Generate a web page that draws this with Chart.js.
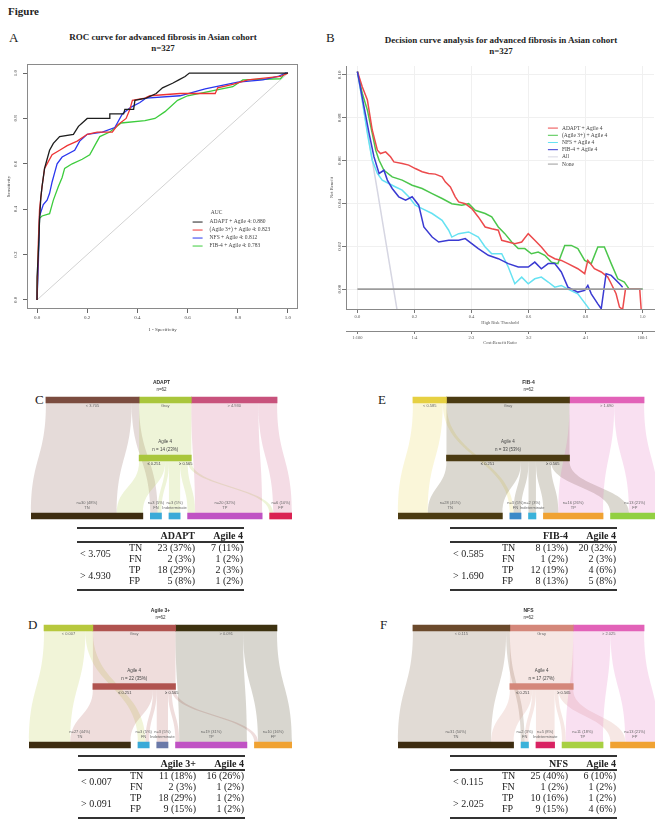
<!DOCTYPE html>
<html>
<head>
<meta charset="utf-8">
<title>Figure</title>
<script src="https://cdn.jsdelivr.net/npm/chart.js@4.4.1/dist/chart.umd.min.js"></script>
<style>
  html, body { margin: 0; padding: 0; background: #fff; }
  body { position: relative; width: 655px; height: 820px; overflow: hidden; font-family: "Liberation Serif", serif; color: #222; }
  canvas { position: absolute; }
  .t { position: absolute; white-space: nowrap; line-height: 1; }
  .letter { font-size: 13px; }
  .head { font-size: 9px; font-weight: bold; text-align: center; line-height: 1.25; }
  .rule { position: absolute; height: 2px; background: #333; }
  .cell { position: absolute; white-space: nowrap; font-size: 10px; line-height: 10px; }
</style>
</head>
<body>
<div class="t" style="left:8px;top:6px;font-size:11px;font-weight:bold">Figure</div>
<div class="t letter" style="left:9px;top:31px">A</div>
<div class="t letter" style="left:326px;top:31px">B</div>
<div class="t letter" style="left:35px;top:393px">C</div>
<div class="t letter" style="left:28px;top:618px">D</div>
<div class="t letter" style="left:378px;top:393px">E</div>
<div class="t letter" style="left:380px;top:618px">F</div>
<div class="t head" style="left:38px;width:250px;top:32px">ROC curve for advanced fibrosis in Asian cohort<br>n=327</div>
<div class="t head" style="left:366px;width:270px;top:35px">Decision curve analysis for advanced fibrosis in Asian cohort<br>n=327</div>

<canvas id="rocChart" width="310" height="278" style="left:0;top:60px"></canvas>
<canvas id="dcaChart" width="330" height="300" style="left:325px;top:50px"></canvas>
<canvas id="sankeyC" width="290" height="190" style="left:20px;top:360px"></canvas>
<canvas id="sankeyD" width="290" height="190" style="left:20px;top:590px"></canvas>
<canvas id="sankeyE" width="275" height="190" style="left:390px;top:360px"></canvas>
<canvas id="sankeyF" width="275" height="190" style="left:390px;top:590px"></canvas>

<script>
// ---- ROC curves (panel A) ----
const rocNames = ['ADAPT + Agile 4', '(Agile 3+) + Agile 4', 'NFS + Agile 4', 'FIB-4 + Agile 4'];
const rocAuc = [0.880, 0.823, 0.812, 0.783];
const rocFprAdapt = [0, 0, 0.005, 0.01, 0.015, 0.02, 0.03, 0.04, 0.05, 0.065, 0.09, 0.145, 0.165, 0.18, 0.2, 0.29, 0.29, 0.345, 0.35, 0.385, 0.39, 0.435, 0.475, 0.5, 0.54, 0.565, 0.59, 0.607, 1];
const rocSensAdapt = [0, 0.1, 0.2, 0.35, 0.45, 0.5, 0.58, 0.62, 0.66, 0.69, 0.72, 0.73, 0.765, 0.78, 0.8, 0.8, 0.82, 0.82, 0.84, 0.84, 0.88, 0.89, 0.91, 0.935, 0.955, 0.97, 0.985, 1, 1];
const rocFprAgile3 = [0, 0.005, 0.01, 0.02, 0.03, 0.04, 0.06, 0.09, 0.12, 0.16, 0.2, 0.24, 0.3, 0.32, 0.355, 0.37, 0.38, 0.43, 0.45, 0.57, 0.71, 0.72, 0.78, 0.84, 0.97, 1];
const rocSensAgile3 = [0, 0.25, 0.4, 0.5, 0.58, 0.6, 0.64, 0.66, 0.68, 0.7, 0.73, 0.74, 0.74, 0.77, 0.8, 0.84, 0.88, 0.89, 0.9, 0.91, 0.91, 0.935, 0.95, 0.97, 0.985, 1];
const rocFprNfs = [0, 0.005, 0.01, 0.025, 0.04, 0.05, 0.06, 0.07, 0.08, 0.1, 0.15, 0.17, 0.2, 0.26, 0.31, 0.34, 0.375, 0.41, 0.435, 0.57, 0.67, 0.8, 0.9, 0.96, 0.99, 1];
const rocSensNfs = [0, 0.15, 0.37, 0.42, 0.44, 0.47, 0.52, 0.56, 0.6, 0.63, 0.66, 0.7, 0.73, 0.74, 0.76, 0.82, 0.85, 0.87, 0.89, 0.9, 0.93, 0.96, 0.97, 0.985, 1, 1];
const rocFprFib4 = [0, 0.005, 0.01, 0.02, 0.05, 0.065, 0.085, 0.1, 0.11, 0.14, 0.18, 0.21, 0.23, 0.25, 0.29, 0.335, 0.43, 0.47, 0.51, 0.56, 0.6, 0.78, 0.82, 0.97, 0.99, 1];
const rocSensFib4 = [0, 0.2, 0.36, 0.37, 0.38, 0.44, 0.5, 0.54, 0.58, 0.6, 0.62, 0.64, 0.68, 0.72, 0.74, 0.78, 0.79, 0.8, 0.83, 0.88, 0.9, 0.94, 0.97, 0.975, 1, 1];
const unitTicks = [0, 0.2, 0.4, 0.6, 0.8, 1.0];

// ---- decision curves (panel B) ----
const dcaNames = ['ADAPT + Agile 4', '(Agile 3+) + Agile 4', 'NFS + Agile 4', 'FIB-4 + Agile 4', 'All', 'None'];
const dcaThrAdapt = [0, .017, .035, .052, .07, .081, .099, .116, .128, .157, .18, .203, .227, .25, .273, .297, .308, .326, .343, .355, .378, .401, .424, .448, .471, .494, .506, .529, .552, .576, .599, .622, .645, .669, .692, .715, .738, .773, .797, .808, .831, .855, .878, .89, .907, .919, .93, .94, .99, .995];
const dcaNbAdapt = [.1016, .0945, .0883, .0743, .0649, .0633, .0641, .0618, .0594, .0587, .0579, .0563, .0548, .054, .0537, .0524, .0501, .0477, .0431, .0407, .0399, .0376, .0337, .029, .0282, .0275, .0228, .022, .0212, .022, .0259, .0228, .0197, .0158, .0142, .0134, .0119, .0095, .0072, .0134, .0095, .008, .0056, .0025, -.0022, -.0084, -.0095, 0, 0, -.0095];
const dcaThrAgile3 = [0, .017, .035, .052, .064, .076, .093, .122, .157, .192, .227, .262, .297, .331, .366, .39, .413, .448, .471, .494, .517, .541, .564, .587, .61, .634, .657, .68, .703, .727, .75, .773, .797, .82, .843, .866, .89, .913, .936, .953, 1];
const dcaNbAgile3 = [.1016, .0915, .0836, .0727, .0649, .0602, .0555, .0524, .0509, .0485, .047, .0446, .0423, .0399, .0392, .0399, .0368, .0353, .0337, .029, .0259, .022, .0189, .0189, .0165, .0173, .0158, .0126, .0119, .0204, .0204, .0189, .0134, .0119, .0197, .0197, .0119, .0048, .0033, 0, 0];
const dcaThrNfs = [0, .017, .035, .052, .07, .087, .11, .134, .157, .18, .203, .227, .262, .297, .32, .331, .355, .39, .424, .448, .471, .506, .529, .552, .576, .599, .622, .645, .669, .692, .715, .738, .773, .808, .82];
const dcaNbNfs = [.1016, .0883, .0727, .0602, .054, .0509, .0493, .0477, .0462, .0431, .0392, .0376, .0353, .0321, .0275, .0243, .0259, .0267, .0243, .0197, .0165, .0165, .0103, .0025, .0056, .0025, .0048, .0056, .0033, .0009, .0017, 0, -.0022, -.0084, -.0108];
const dcaThrFib4 = [0, .023, .041, .058, .076, .093, .105, .122, .145, .169, .192, .215, .233, .262, .285, .32, .355, .378, .401, .424, .459, .494, .529, .564, .599, .622, .645, .669, .692, .715, .738, .773, .797, .808, .82, .843, .855, .872, .89, .919, .93];
const dcaNbFib4 = [.1016, .0852, .0727, .0618, .054, .0555, .0509, .047, .0431, .0415, .0431, .0392, .029, .0243, .022, .0228, .0228, .0236, .0212, .0189, .0158, .0142, .0119, .0103, .0103, .0126, .0095, .0119, .0119, .008, .0009, -.0014, -.0006, .0017, -.0022, -.0069, -.0092, .0072, .0064, .0025, .0009];
const dcaThrAll = [0, 0.07, 0.14];
const dcaNbAll = [0.1016, 0.046, -0.0105];
const dcaThrNone = [0, 1];
const dcaNbNone = [0, 0];
const nbTicks = [0, 0.02, 0.04, 0.06, 0.08, 0.10];
const costBenefit = ['1:100', '1:4', '2:3', '3:2', '4:1', '100:1'];

// ---- classification counts (panels C-F): TN, FN, TP, FP ----
const cohortN = 62;
const outcomeRows = ['TN', 'FN', 'TP', 'FP'];
const bottomNames = ['TN', 'FN', 'Indeterminate', 'TP', 'FP'];
const agile4Cuts = ['\u2264 0.251', '\u2265 0.565'];
const adaptFirst = [23, 2, 18, 5];
const adaptAgile = [7, 1, 2, 1];
const adaptCuts = ['< 3.705', '> 4.930'];
const agile3First = [11, 2, 18, 9];
const agile3Agile = [16, 1, 1, 1];
const agile3Cuts = ['< 0.007', '> 0.091'];
const fib4First = [8, 1, 12, 8];
const fib4Agile = [20, 2, 4, 5];
const fib4Cuts = ['< 0.585', '> 1.690'];
const nfsFirst = [25, 1, 10, 9];
const nfsAgile = [6, 1, 1, 4];
const nfsCuts = ['< 0.115', '> 2.025'];

Chart.defaults.font.family = '"Liberation Serif", serif';
Chart.defaults.color = '#444';

const pts = (xs, ys) => xs.map((x, i) => ({x: x, y: ys[i]}));
const sum = a => a.reduce((s, v) => s + v, 0);
const pct = v => Math.round(v / cohortN * 100);
const fixTicks = vals => scale => { scale.ticks = vals.map(v => ({value: v})); };

function rgba(hex, a) {
  const v = parseInt(hex.slice(1), 16);
  return 'rgba(' + (v >> 16) + ',' + ((v >> 8) & 255) + ',' + (v & 255) + ',' + a + ')';
}

// rotated y tick labels like base R
const rotYTicks = {
  id: 'rotYTicks',
  afterDraw(chart, args, o) {
    const ys = chart.scales.y, ctx = chart.ctx;
    ctx.save();
    ctx.font = '5px "Liberation Serif"';
    ctx.fillStyle = '#444';
    ctx.textAlign = 'center';
    ctx.textBaseline = 'middle';
    ys.ticks.forEach(t => {
      ctx.save();
      ctx.translate(o.x, ys.getPixelForValue(t.value));
      ctx.rotate(-Math.PI / 2);
      ctx.fillText(t.value.toFixed(o.digits), 0, 0);
      ctx.restore();
    });
    ctx.restore();
  }
};

const boxPlugin = {
  id: 'box',
  afterDatasetsDraw(chart, args, o) {
    if (!o.show) return;
    const a = chart.chartArea, ctx = chart.ctx;
    ctx.save();
    ctx.strokeStyle = '#8a8a8a';
    ctx.lineWidth = 1;
    ctx.strokeRect(a.left + 0.5, a.top + 0.5, a.right - a.left - 1, a.bottom - a.top - 1);
    ctx.restore();
  }
};

const lineLegend = {
  id: 'lineLegend',
  afterDatasetsDraw(chart, args, o) {
    const {ctx, scales: {x, y}} = chart;
    const x0 = x.getPixelForValue(o.x), y0 = y.getPixelForValue(o.y);
    ctx.save();
    ctx.font = '5.5px "Liberation Serif"';
    ctx.textBaseline = 'middle';
    let yy = y0;
    if (o.title) {
      ctx.fillStyle = '#444';
      ctx.textAlign = 'center';
      ctx.fillText(o.title, x0 + 24, yy);
      yy += 9;
    }
    o.items.forEach((idx, k) => {
      const ds = chart.data.datasets[idx];
      ctx.strokeStyle = ds.borderColor;
      ctx.lineWidth = 1;
      ctx.beginPath();
      ctx.moveTo(x0, yy);
      ctx.lineTo(x0 + 10, yy);
      ctx.stroke();
      ctx.fillStyle = '#444';
      ctx.textAlign = 'left';
      ctx.fillText(o.text ? o.text[k] : ds.label, x0 + o.gap, yy);
      yy += o.step;
    });
    ctx.restore();
  }
};

// ---------- Panel A ----------
const rocFpr = [rocFprAdapt, rocFprAgile3, rocFprNfs, rocFprFib4];
const rocSens = [rocSensAdapt, rocSensAgile3, rocSensNfs, rocSensFib4];
const rocColors = ['#1e1e1e', '#ee3434', '#2a36ee', '#3ccc3c'];

new Chart(document.getElementById('rocChart'), {
  type: 'line',
  data: {
    datasets: rocNames.map((name, i) => ({
      label: name, data: pts(rocFpr[i], rocSens[i]), borderColor: rocColors[i], order: i + 1
    })).concat([{label: 'chance', data: pts([0, 1], [0, 1]), borderColor: '#d2d2d2', borderWidth: 1, order: 10}])
  },
  options: {
    responsive: false, animation: false,
    layout: {padding: {left: 0, top: 4, right: 12, bottom: 0}},
    elements: {point: {radius: 0}, line: {borderWidth: 1.3, tension: 0}},
    plugins: {
      legend: {display: false}, tooltip: {enabled: false},
      rotYTicks: {x: 16, digits: 1},
      box: {show: true},
      lineLegend: {x: 0.62, y: 0.383, title: 'AUC', items: [0, 1, 2, 3], step: 8, gap: 17,
        text: rocNames.map((n, i) => n + ': ' + rocAuc[i].toFixed(3))}
    },
    scales: {
      x: {
        type: 'linear', min: -0.04, max: 1.04, afterBuildTicks: fixTicks(unitTicks),
        afterFit: s => { s.height = 29; },
        grid: {drawOnChartArea: false, tickLength: 4, tickColor: '#666'},
        border: {display: false},
        ticks: {font: {size: 5}, color: '#444', padding: 2, callback: v => v.toFixed(1)},
        title: {display: true, text: '1 - Specificity', font: {size: 5}, color: '#444', padding: {top: 0, bottom: 5}}
      },
      y: {
        type: 'linear', min: -0.04, max: 1.04, afterBuildTicks: fixTicks(unitTicks),
        afterFit: s => { s.width = 27; },
        grid: {drawOnChartArea: false, tickLength: 4, tickColor: '#666'},
        border: {display: false},
        ticks: {display: false},
        title: {display: true, text: 'Sensitivity', font: {size: 5}, color: '#444', padding: {top: 6, bottom: 0}}
      }
    }
  },
  plugins: [rotYTicks, boxPlugin, lineLegend]
});

// ---------- Panel B ----------
const dcaThr = [dcaThrAdapt, dcaThrAgile3, dcaThrNfs, dcaThrFib4, dcaThrAll, dcaThrNone];
const dcaNb = [dcaNbAdapt, dcaNbAgile3, dcaNbNfs, dcaNbFib4, dcaNbAll, dcaNbNone];
const dcaColors = ['#ec4a4c', '#4cc64c', '#66e2f2', '#3a3ad2', '#d6d6e2', '#9c9c9c'];
const dcaOrder = [2, 3, 4, 1, 6, 0];

new Chart(document.getElementById('dcaChart'), {
  type: 'line',
  data: {
    datasets: dcaNames.map((name, i) => ({
      label: name, data: pts(dcaThr[i], dcaNb[i]), borderColor: dcaColors[i], order: dcaOrder[i],
      borderWidth: i === 5 ? 1.6 : 1.5, clip: 0
    }))
  },
  options: {
    responsive: false, animation: false,
    layout: {padding: {left: 0, top: 16, right: 1, bottom: 0}},
    elements: {point: {radius: 0}, line: {tension: 0}},
    plugins: {
      legend: {display: false}, tooltip: {enabled: false},
      rotYTicks: {x: 15, digits: 2},
      box: {show: false},
      lineLegend: {x: 0.668, y: 0.0752, items: [0, 1, 2, 3, 4, 5], step: 7.2, gap: 14}
    },
    scales: {
      x: {
        type: 'linear', min: -0.04, max: 1.04, weight: 0, afterBuildTicks: fixTicks(unitTicks),
        afterFit: s => { s.height = 22; },
        grid: {color: '#f0f0f0', tickLength: 4, tickColor: '#777'},
        border: {display: true, color: '#888'},
        ticks: {font: {size: 4.5}, color: '#555', padding: 1, callback: v => v.toFixed(1)},
        title: {display: true, text: 'High Risk Threshold', font: {size: 4.5}, color: '#555', padding: {top: 0, bottom: 5}}
      },
      x2: {
        type: 'linear', position: 'bottom', min: -0.04, max: 1.04, weight: 1, afterBuildTicks: fixTicks(unitTicks),
        afterFit: s => { s.height = 19; },
        grid: {drawOnChartArea: false, tickLength: 3, tickColor: '#777'},
        border: {display: true, color: '#888'},
        ticks: {font: {size: 4.5}, color: '#555', padding: 1, callback: v => costBenefit[Math.round(v * 5)]},
        title: {display: true, text: 'Cost:Benefit Ratio', font: {size: 4.5}, color: '#555', padding: {top: 0, bottom: 4}}
      },
      y: {
        type: 'linear', min: -0.0093, max: 0.1042, afterBuildTicks: fixTicks(nbTicks),
        afterFit: s => { s.width = 21; },
        grid: {color: '#f0f0f0', tickLength: 4, tickColor: '#777'},
        border: {display: true, color: '#888'},
        ticks: {display: false},
        title: {display: true, text: 'Net Benefit', font: {size: 4.5}, color: '#555', padding: {top: 4, bottom: 0}}
      }
    }
  },
  plugins: [rotYTicks, boxPlugin, lineLegend]
});

// ---------- Panels C-F: flow diagrams ----------
const sankeyStyles = {
  C: {top: ['#7b4c3f', '#a9c63b', '#c8527c'], bottom: ['#3d2c10', '#3aaad8', '#3aaad8', '#c052c4', '#da2252']},
  D: {top: ['#b7c83d', '#b0534f', '#3d3210'], bottom: ['#3d2c10', '#3aaad8', '#6a79a8', '#c052c4', '#f0a232']},
  E: {top: ['#e6d042', '#4b3b12', '#e262b8'], bottom: ['#4b3b12', '#3a8ac8', '#3ab2da', '#f0a232', '#92d042']},
  F: {top: ['#6b4a2c', '#d4877a', '#e262b8'], bottom: ['#3d2c10', '#3ab2da', '#d92262', '#a8d042', '#f0a232']}
};
const topOffset = 4, nodeGap = 2, barPx = 6;

function makeSankey(id, name, first, agile, cuts, style, pad) {
  const gray = cohortN - sum(first);
  const indet = gray - sum(agile);
  const topVals = [first[0] + first[1], gray, first[2] + first[3]];
  const botVals = [first[0] + agile[0], first[1] + agile[1], indet, first[2] + agile[2], first[3] + agile[3]];

  const topNodes = [];
  let p = topOffset;
  topVals.forEach((v, i) => { topNodes.push({row: 0, s: p, e: p + v, color: style.top[i]}); p += v; });
  const mid = {row: 1, s: topNodes[1].s, e: topNodes[1].e, color: style.top[1]};
  const botNodes = [];
  p = 0;
  botVals.forEach((v, i) => { botNodes.push({row: 2, s: p, e: p + v, v: v, color: style.bottom[i]}); p += v + nodeGap; });
  const nodes = topNodes.concat([mid], botNodes);
  nodes.forEach(nd => { nd.out = nd.s; nd.inn = nd.s; });

  const flows = [];
  const link = (a, b, v) => {
    if (v <= 0) return;
    flows.push({a: a, b: b, a0: a.out, b0: b.inn, v: v});
    a.out += v; b.inn += v;
  };
  link(topNodes[0], botNodes[0], first[0]);
  link(topNodes[0], botNodes[1], first[1]);
  link(topNodes[1], mid, gray);
  link(mid, botNodes[0], agile[0]);
  link(mid, botNodes[1], agile[1]);
  link(mid, botNodes[2], indet);
  link(mid, botNodes[3], agile[2]);
  link(mid, botNodes[4], agile[3]);
  link(topNodes[2], botNodes[3], first[2]);
  link(topNodes[2], botNodes[4], first[3]);

  const flowPlugin = {
    id: 'flows',
    beforeDatasetsDraw(chart) {
      const {ctx, scales: {x, y}} = chart;
      ctx.save();
      flows.forEach(f => {
        const ya = y.getPixelForValue(f.a.row) + barPx / 2;
        const yb = y.getPixelForValue(f.b.row) - barPx / 2;
        const ym = (ya + yb) / 2;
        const xa0 = x.getPixelForValue(f.a0), xa1 = x.getPixelForValue(f.a0 + f.v);
        const xb0 = x.getPixelForValue(f.b0), xb1 = x.getPixelForValue(f.b0 + f.v);
        ctx.beginPath();
        ctx.moveTo(xa0, ya);
        ctx.bezierCurveTo(xa0, ym, xb0, ym, xb0, yb);
        ctx.lineTo(xb1, yb);
        ctx.bezierCurveTo(xb1, ym, xa1, ym, xa1, ya);
        ctx.closePath();
        ctx.fillStyle = rgba(f.a.color, 0.2);
        ctx.fill();
      });
      ctx.restore();
    },
    afterDatasetsDraw(chart) {
      const {ctx, scales: {x, y}} = chart;
      const yTop = y.getPixelForValue(0), yMid = y.getPixelForValue(1), yBot = y.getPixelForValue(2);
      const cx = nd => (x.getPixelForValue(nd.s) + x.getPixelForValue(nd.e)) / 2;
      ctx.save();
      ctx.textAlign = 'center';
      ctx.textBaseline = 'middle';
      ctx.fillStyle = '#333';
      ctx.font = 'bold 5px "Liberation Sans"';
      const cTop = x.getPixelForValue(topOffset + cohortN / 2);
      ctx.fillText(name, cTop, yTop - 17);
      ctx.font = '4.5px "Liberation Sans"';
      ctx.fillText('n=' + cohortN, cTop, yTop - 10);
      ctx.fillStyle = '#666';
      ctx.font = '4px "Liberation Sans"';
      [cuts[0], 'Gray', cuts[1]].forEach((t, i) => ctx.fillText(t, cx(topNodes[i]), yTop + 6));
      ctx.fillStyle = '#444';
      ctx.font = '4.5px "Liberation Sans"';
      ctx.fillText('Agile 4', cx(mid), yMid - 16);
      ctx.fillText('n = ' + gray + ' (' + pct(gray) + '%)', cx(mid), yMid - 8);
      ctx.font = '4px "Liberation Sans"';
      const lowMid = x.getPixelForValue(mid.s + (agile[0] + agile[1]) / 2);
      const highMid = x.getPixelForValue(mid.e - (agile[2] + agile[3]) / 2);
      ctx.fillText(agile4Cuts[0], lowMid, yMid + 6);
      ctx.fillText(agile4Cuts[1], highMid, yMid + 6);
      ctx.fillStyle = '#666';
      botNodes.forEach((nd, i) => {
        ctx.fillText('n=' + nd.v + ' (' + pct(nd.v) + '%)', cx(nd), yBot - 13);
        ctx.fillText(bottomNames[i], cx(nd), yBot - 8);
      });
      ctx.restore();
    }
  };

  new Chart(document.getElementById(id), {
    type: 'bar',
    data: {
      labels: ['top', 'mid', 'bottom'],
      datasets: nodes.map(nd => {
        const d = [null, null, null];
        d[nd.row] = [nd.s, nd.e];
        return {data: d, backgroundColor: nd.color, barThickness: barPx, grouped: false, borderWidth: 0};
      })
    },
    options: {
      indexAxis: 'y', responsive: false, animation: false,
      layout: {padding: pad},
      plugins: {legend: {display: false}, tooltip: {enabled: false}},
      scales: {
        x: {type: 'linear', min: 0, max: 70, display: false},
        y: {type: 'category', display: false}
      }
    },
    plugins: [flowPlugin]
  });
}

makeSankey('sankeyC', 'ADAPT', adaptFirst, adaptAgile, adaptCuts, sankeyStyles.C, {left: 11, right: 18, top: 11, bottom: 5});
makeSankey('sankeyD', 'Agile 3+', agile3First, agile3Agile, agile3Cuts, sankeyStyles.D, {left: 9, right: 18, top: 8.75, bottom: 5.75});
makeSankey('sankeyE', 'FIB-4', fib4First, fib4Agile, fib4Cuts, sankeyStyles.E, {left: 8, right: 6, top: 11, bottom: 5});
makeSankey('sankeyF', 'NFS', nfsFirst, nfsAgile, nfsCuts, sankeyStyles.F, {left: 8, right: 6, top: 8.75, bottom: 5.75});

// ---------- tables under each diagram ----------
function addDiv(cls, css, text) {
  const d = document.createElement('div');
  d.className = cls;
  d.style.cssText = css;
  if (text !== undefined) d.textContent = text;
  document.body.appendChild(d);
  return d;
}
function addTable(left, top, name, first, agile, cuts) {
  const w = 167, c1 = left + 118, c2 = left + 166;
  const right = (x, y, txt, bold) =>
    addDiv('cell', 'left:' + (x - 70) + 'px;top:' + y + 'px;width:70px;text-align:right;' + (bold ? 'font-weight:bold;' : ''), txt);
  addDiv('rule', 'left:' + left + 'px;top:' + top + 'px;width:' + w + 'px');
  right(c1, top + 4, name, true);
  right(c2, top + 4, 'Agile 4', true);
  addDiv('rule', 'left:' + left + 'px;top:' + (top + 14) + 'px;width:' + w + 'px');
  outcomeRows.forEach((r, i) => {
    const yy = top + 16 + i * 11;
    addDiv('cell', 'left:' + (left + 52) + 'px;top:' + yy + 'px', r);
    right(c1, yy, first[i] + ' (' + pct(first[i]) + '%)');
    right(c2, yy, agile[i] + ' (' + pct(agile[i]) + '%)');
  });
  addDiv('cell', 'left:' + (left + 3) + 'px;top:' + (top + 22) + 'px', cuts[0]);
  addDiv('cell', 'left:' + (left + 3) + 'px;top:' + (top + 44) + 'px', cuts[1]);
  addDiv('rule', 'left:' + left + 'px;top:' + (top + 62) + 'px;width:' + w + 'px');
}
addTable(77, 527, 'ADAPT', adaptFirst, adaptAgile, adaptCuts);
addTable(78, 755, 'Agile 3+', agile3First, agile3Agile, agile3Cuts);
addTable(450, 527, 'FIB-4', fib4First, fib4Agile, fib4Cuts);
addTable(450, 755, 'NFS', nfsFirst, nfsAgile, nfsCuts);
</script>
</body>
</html>
